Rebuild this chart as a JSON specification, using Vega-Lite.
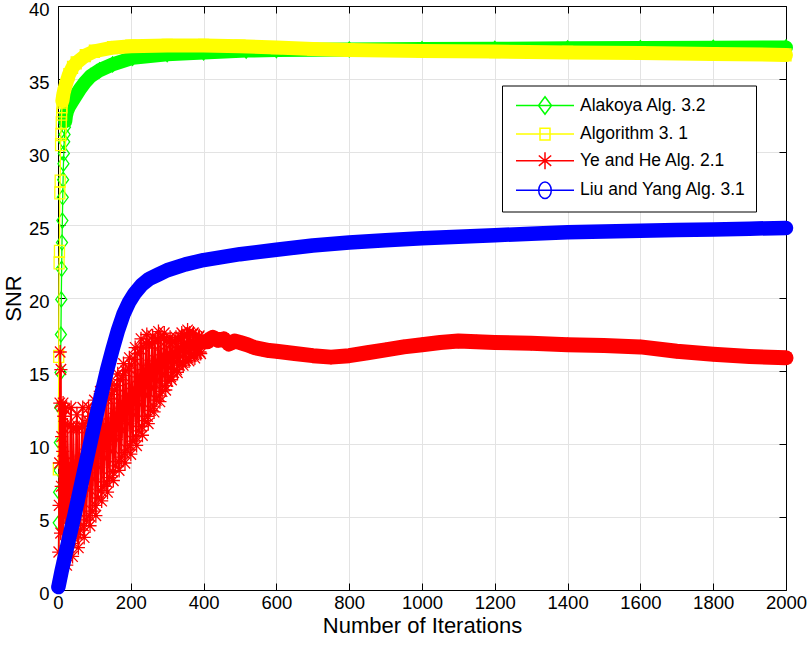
{
  "$schema": "https://vega.github.io/schema/vega-lite/v6.json",
  "width": 728,
  "height": 584,
  "autosize": {"type": "none"},
  "padding": {"left": 58, "top": 6, "right": 21, "bottom": 67},
  "background": "white",
  "config": {"view": {"stroke": null}, "font": "Liberation Sans"},
  "datasets": {
    "green": [
      {"it": 1, "v": 0.5}, {"it": 2, "v": 4.6}, {"it": 3, "v": 6.7}, {"it": 4, "v": 8.2}, {"it": 5, "v": 10.1},
      {"it": 6, "v": 12.5}, {"it": 7, "v": 14.9}, {"it": 8, "v": 17.5}, {"it": 9, "v": 19.9}, {"it": 10, "v": 22.0},
      {"it": 11, "v": 23.8}, {"it": 12, "v": 25.3}, {"it": 13, "v": 26.9}, {"it": 14, "v": 28.1}, {"it": 15, "v": 29.2},
      {"it": 16, "v": 29.9}, {"it": 17, "v": 30.7}, {"it": 18, "v": 31.2}, {"it": 19, "v": 31.7}, {"it": 20, "v": 32.1},
      {"it": 22, "v": 32.5}, {"it": 25, "v": 32.8}, {"it": 30, "v": 33.1}, {"it": 40, "v": 33.5}, {"it": 50, "v": 33.9},
      {"it": 60, "v": 34.3}, {"it": 75, "v": 34.8}, {"it": 90, "v": 35.2}, {"it": 114, "v": 35.6}, {"it": 150, "v": 36.0},
      {"it": 205, "v": 36.45}, {"it": 300, "v": 36.7}, {"it": 400, "v": 36.82}, {"it": 517, "v": 36.95}, {"it": 600, "v": 36.98},
      {"it": 800, "v": 37.02}, {"it": 1000, "v": 37.05}, {"it": 1200, "v": 37.07}, {"it": 1400, "v": 37.1}, {"it": 1600, "v": 37.12},
      {"it": 1800, "v": 37.14}, {"it": 2000, "v": 37.16}
    ],
    "yellow": [
      {"it": 1, "v": 8.3}, {"it": 2, "v": 16.0}, {"it": 3, "v": 22.4}, {"it": 4, "v": 23.2}, {"it": 5, "v": 27.2},
      {"it": 6, "v": 28.0}, {"it": 7, "v": 30.5}, {"it": 8, "v": 31.2}, {"it": 9, "v": 32.0}, {"it": 10, "v": 32.6},
      {"it": 11, "v": 33.1}, {"it": 12, "v": 33.5}, {"it": 15, "v": 34.0}, {"it": 20, "v": 34.5}, {"it": 30, "v": 35.3},
      {"it": 40, "v": 35.8}, {"it": 50, "v": 36.1}, {"it": 75, "v": 36.6}, {"it": 100, "v": 36.9}, {"it": 150, "v": 37.15},
      {"it": 200, "v": 37.25}, {"it": 300, "v": 37.3}, {"it": 400, "v": 37.3}, {"it": 500, "v": 37.25}, {"it": 600, "v": 37.15},
      {"it": 700, "v": 37.05}, {"it": 800, "v": 36.98}, {"it": 1000, "v": 36.92}, {"it": 1200, "v": 36.88}, {"it": 1400, "v": 36.82},
      {"it": 1600, "v": 36.78}, {"it": 1800, "v": 36.72}, {"it": 2000, "v": 36.65}
    ],
    "red": [
      {"it": 1, "v": 0.3}, {"it": 2, "v": 2.6}, {"it": 3, "v": 5.8}, {"it": 4, "v": 8.7}, {"it": 5, "v": 12.8},
      {"it": 6, "v": 16.3}, {"it": 7, "v": 3.9}, {"it": 8, "v": 15.1}, {"it": 9, "v": 7.1}, {"it": 10, "v": 10.5},
      {"it": 11, "v": 12.6}, {"it": 12, "v": 1.4}, {"it": 13, "v": 9.5}, {"it": 14, "v": 12.8}, {"it": 15, "v": 2.0},
      {"it": 16, "v": 11.9}, {"it": 17, "v": 5.0}, {"it": 18, "v": 12.4},
      {"it": 20, "v": 12.4}, {"it": 22, "v": 2.7}, {"it": 24, "v": 1.7}, {"it": 26, "v": 11.3}, {"it": 28, "v": 8.6}, {"it": 30, "v": 2.9},
      {"it": 32, "v": 5.6}, {"it": 34, "v": 11.2}, {"it": 36, "v": 12.5}, {"it": 38, "v": 3.2}, {"it": 40, "v": 2.3}, {"it": 42, "v": 11.1},
      {"it": 44, "v": 8.7}, {"it": 46, "v": 3.5}, {"it": 48, "v": 5.9}, {"it": 50, "v": 11.1}, {"it": 52, "v": 12.0}, {"it": 54, "v": 3.8},
      {"it": 56, "v": 2.9}, {"it": 58, "v": 11.1}, {"it": 60, "v": 8.9}, {"it": 62, "v": 4.1}, {"it": 64, "v": 6.4}, {"it": 66, "v": 11.2},
      {"it": 68, "v": 12.5}, {"it": 70, "v": 4.4}, {"it": 72, "v": 3.6}, {"it": 74, "v": 11.4}, {"it": 76, "v": 9.3}, {"it": 78, "v": 4.8},
      {"it": 80, "v": 6.9}, {"it": 82, "v": 11.6}, {"it": 84, "v": 12.5}, {"it": 86, "v": 5.1}, {"it": 88, "v": 4.4}, {"it": 90, "v": 11.9},
      {"it": 92, "v": 9.9}, {"it": 94, "v": 5.4}, {"it": 96, "v": 7.6}, {"it": 98, "v": 12.1}, {"it": 100, "v": 13.0}, {"it": 102, "v": 5.8},
      {"it": 104, "v": 5.1}, {"it": 106, "v": 12.4}, {"it": 108, "v": 10.5}, {"it": 110, "v": 6.3}, {"it": 112, "v": 8.4}, {"it": 114, "v": 12.8},
      {"it": 116, "v": 13.6}, {"it": 118, "v": 6.8}, {"it": 120, "v": 6.1}, {"it": 122, "v": 13.0}, {"it": 124, "v": 11.2}, {"it": 126, "v": 7.1},
      {"it": 128, "v": 9.0}, {"it": 130, "v": 13.1}, {"it": 132, "v": 13.8}, {"it": 134, "v": 7.4}, {"it": 136, "v": 6.7}, {"it": 138, "v": 13.1},
      {"it": 140, "v": 11.4}, {"it": 142, "v": 7.7}, {"it": 144, "v": 9.5}, {"it": 146, "v": 13.4}, {"it": 148, "v": 14.1}, {"it": 150, "v": 8.1},
      {"it": 152, "v": 7.5}, {"it": 154, "v": 13.7}, {"it": 156, "v": 12.1}, {"it": 158, "v": 8.5}, {"it": 160, "v": 10.3}, {"it": 162, "v": 14.0},
      {"it": 164, "v": 14.8}, {"it": 166, "v": 8.8}, {"it": 168, "v": 8.2}, {"it": 170, "v": 14.4}, {"it": 172, "v": 12.8}, {"it": 174, "v": 9.1},
      {"it": 176, "v": 10.9}, {"it": 178, "v": 14.7}, {"it": 180, "v": 15.5}, {"it": 182, "v": 9.4}, {"it": 184, "v": 8.7}, {"it": 186, "v": 15.0},
      {"it": 188, "v": 13.3}, {"it": 190, "v": 9.6}, {"it": 192, "v": 11.4}, {"it": 194, "v": 15.2}, {"it": 196, "v": 15.9}, {"it": 198, "v": 9.9},
      {"it": 200, "v": 9.3}, {"it": 202, "v": 15.4}, {"it": 204, "v": 13.8}, {"it": 206, "v": 10.2}, {"it": 208, "v": 12.0}, {"it": 210, "v": 15.8},
      {"it": 212, "v": 16.6}, {"it": 214, "v": 10.5}, {"it": 216, "v": 9.9}, {"it": 218, "v": 16.2}, {"it": 220, "v": 14.6}, {"it": 222, "v": 10.9},
      {"it": 224, "v": 12.7}, {"it": 226, "v": 16.5}, {"it": 228, "v": 17.2}, {"it": 230, "v": 11.2}, {"it": 232, "v": 10.6}, {"it": 234, "v": 16.7},
      {"it": 236, "v": 15.1}, {"it": 238, "v": 11.6}, {"it": 240, "v": 13.3}, {"it": 242, "v": 16.9}, {"it": 244, "v": 17.5}, {"it": 246, "v": 11.9},
      {"it": 248, "v": 11.4}, {"it": 250, "v": 16.9}, {"it": 252, "v": 15.4}, {"it": 254, "v": 12.3}, {"it": 256, "v": 13.8}, {"it": 258, "v": 16.9},
      {"it": 260, "v": 17.4}, {"it": 262, "v": 12.6}, {"it": 264, "v": 12.2}, {"it": 266, "v": 17.0}, {"it": 268, "v": 15.7}, {"it": 270, "v": 13.0},
      {"it": 272, "v": 14.3}, {"it": 274, "v": 17.2}, {"it": 276, "v": 17.7}, {"it": 278, "v": 13.3}, {"it": 280, "v": 12.9}, {"it": 282, "v": 17.3},
      {"it": 284, "v": 16.1}, {"it": 286, "v": 13.6}, {"it": 288, "v": 14.8}, {"it": 290, "v": 17.2}, {"it": 292, "v": 17.6}, {"it": 294, "v": 14.0},
      {"it": 296, "v": 13.7}, {"it": 298, "v": 17.1}, {"it": 300, "v": 16.2}, {"it": 302, "v": 14.3}, {"it": 304, "v": 15.2}, {"it": 306, "v": 17.0},
      {"it": 308, "v": 17.3}, {"it": 310, "v": 14.6}, {"it": 312, "v": 14.4}, {"it": 314, "v": 17.0}, {"it": 316, "v": 16.3}, {"it": 318, "v": 14.9},
      {"it": 320, "v": 15.6}, {"it": 322, "v": 17.0}, {"it": 324, "v": 17.3}, {"it": 326, "v": 15.1}, {"it": 328, "v": 14.9}, {"it": 330, "v": 17.2},
      {"it": 332, "v": 16.6}, {"it": 334, "v": 15.4}, {"it": 336, "v": 16.0}, {"it": 338, "v": 17.3}, {"it": 340, "v": 17.6}, {"it": 342, "v": 15.6},
      {"it": 344, "v": 15.4}, {"it": 346, "v": 17.4}, {"it": 348, "v": 16.9}, {"it": 350, "v": 15.7}, {"it": 352, "v": 16.3}, {"it": 354, "v": 17.5},
      {"it": 356, "v": 17.8}, {"it": 358, "v": 15.9}, {"it": 360, "v": 15.7}, {"it": 362, "v": 17.6}, {"it": 364, "v": 17.05}, {"it": 366, "v": 16.0},
      {"it": 368, "v": 16.5}, {"it": 370, "v": 17.5}, {"it": 372, "v": 17.6}, {"it": 374, "v": 16.1}, {"it": 376, "v": 15.9}, {"it": 378, "v": 17.4},
      {"it": 380, "v": 16.97}, {"it": 382, "v": 16.2}, {"it": 384, "v": 16.56}, {"it": 386, "v": 17.3}, {"it": 388, "v": 17.4}, {"it": 390, "v": 16.3},
      {"it": 392, "v": 16.2}, {"it": 394, "v": 17.25}, {"it": 396, "v": 17.0},
      {"it": 410, "v": 17.0}, {"it": 425, "v": 17.3}, {"it": 440, "v": 17.1}, {"it": 455, "v": 17.2}, {"it": 470, "v": 16.85},
      {"it": 485, "v": 17.05}, {"it": 500, "v": 16.95}, {"it": 520, "v": 16.8}, {"it": 540, "v": 16.6}, {"it": 560, "v": 16.5},
      {"it": 580, "v": 16.4}, {"it": 600, "v": 16.35}, {"it": 650, "v": 16.2}, {"it": 700, "v": 16.05}, {"it": 750, "v": 15.95},
      {"it": 800, "v": 16.05}, {"it": 850, "v": 16.25}, {"it": 900, "v": 16.45}, {"it": 950, "v": 16.65}, {"it": 1000, "v": 16.8},
      {"it": 1050, "v": 16.95}, {"it": 1100, "v": 17.05}, {"it": 1150, "v": 17.0}, {"it": 1200, "v": 16.95}, {"it": 1300, "v": 16.9},
      {"it": 1400, "v": 16.8}, {"it": 1500, "v": 16.75}, {"it": 1600, "v": 16.65}, {"it": 1700, "v": 16.35}, {"it": 1800, "v": 16.15},
      {"it": 1900, "v": 16.0}, {"it": 2000, "v": 15.9}
    ],
    "blue": [
      {"it": 1, "v": 0.2}, {"it": 10, "v": 1.3}, {"it": 20, "v": 2.4}, {"it": 30, "v": 3.5}, {"it": 45, "v": 5.1},
      {"it": 60, "v": 6.8}, {"it": 75, "v": 8.5}, {"it": 90, "v": 10.2}, {"it": 105, "v": 11.9}, {"it": 120, "v": 13.5},
      {"it": 135, "v": 15.1}, {"it": 150, "v": 16.5}, {"it": 165, "v": 17.8}, {"it": 180, "v": 18.9}, {"it": 195, "v": 19.7},
      {"it": 210, "v": 20.3}, {"it": 230, "v": 20.9}, {"it": 250, "v": 21.3}, {"it": 275, "v": 21.6}, {"it": 300, "v": 21.9},
      {"it": 350, "v": 22.3}, {"it": 400, "v": 22.6}, {"it": 450, "v": 22.8}, {"it": 500, "v": 23.0}, {"it": 600, "v": 23.3},
      {"it": 700, "v": 23.6}, {"it": 800, "v": 23.8}, {"it": 900, "v": 23.95}, {"it": 1000, "v": 24.1}, {"it": 1100, "v": 24.2},
      {"it": 1200, "v": 24.3}, {"it": 1300, "v": 24.4}, {"it": 1400, "v": 24.5}, {"it": 1500, "v": 24.55}, {"it": 1600, "v": 24.6},
      {"it": 1700, "v": 24.65}, {"it": 1800, "v": 24.7}, {"it": 1900, "v": 24.75}, {"it": 2000, "v": 24.8}
    ],
    "legend": [
      {"s": "Alakoya Alg. 3.2"}, {"s": "Algorithm 3. 1"}, {"s": "Ye and He Alg. 2.1"}, {"s": "Liu and Yang Alg. 3.1"}
    ]
  },
  "layer": [
    {
      "encoding": {
        "x": {
          "field": "it", "type": "quantitative",
          "scale": {"domain": [0, 2000], "nice": false, "zero": false},
          "axis": {
            "orient": "bottom", "values": [0, 200, 400, 600, 800, 1000, 1200, 1400, 1600, 1800, 2000], "format": "d",
            "title": "Number of Iterations", "grid": true, "gridColor": "#e3e3e3", "gridWidth": 1,
            "domainColor": "black", "domainWidth": 1, "tickColor": "black", "tickSize": -7, "tickWidth": 1,
            "labelPadding": 10.5, "labelFont": "Liberation Sans", "labelFontSize": 18.5, "labelColor": "black",
            "labelFlush": false, "labelOverlap": false,
            "titleFont": "Liberation Sans", "titleFontSize": 22, "titleFontWeight": "normal", "titleColor": "black",
            "titleBaseline": "alphabetic", "titleY": 42
          }
        },
        "y": {
          "field": "v", "type": "quantitative",
          "scale": {"domain": [0, 40], "nice": false, "zero": false},
          "axis": {
            "orient": "left", "values": [0, 5, 10, 15, 20, 25, 30, 35, 40], "format": "d",
            "title": "SNR", "grid": true, "gridColor": "#e3e3e3", "gridWidth": 1,
            "domainColor": "black", "domainWidth": 1, "tickColor": "black", "tickSize": -7, "tickWidth": 1,
            "labelPadding": 16, "labelOffset": 3.5, "labelFont": "Liberation Sans", "labelFontSize": 18.5, "labelColor": "black",
            "labelFlush": false, "labelOverlap": false,
            "titleFont": "Liberation Sans", "titleFontSize": 22, "titleFontWeight": "normal", "titleColor": "black",
            "titleBaseline": "alphabetic", "titleX": -38, "titleY": 292
          }
        }
      },
      "layer": [
        {
          "data": {"name": "green"},
          "layer": [
            {"mark": {"type": "line", "color": "#00ff00", "strokeWidth": 1.3}, "encoding": {}},
            {"transform": [{"filter": "datum.it >= 20"}], "mark": {"type": "line", "color": "#00ff00", "strokeWidth": 14, "strokeCap": "round", "strokeJoin": "round"}, "encoding": {}},
            {"mark": {"type": "point", "color": "#00ff00", "filled": false, "opacity": 1, "strokeWidth": 1.3, "size": 100, "shape": "M0,-1.5L1.1,0L0,1.5L-1.1,0Z"}, "encoding": {}}
          ]
        },
        {
          "data": {"name": "yellow"},
          "layer": [
            {"mark": {"type": "line", "color": "#ffff00", "strokeWidth": 1.3}, "encoding": {}},
            {"transform": [{"filter": "datum.it >= 12"}], "mark": {"type": "line", "color": "#ffff00", "strokeWidth": 14, "strokeCap": "round", "strokeJoin": "round"}, "encoding": {}},
            {"mark": {"type": "point", "color": "#ffff00", "filled": false, "opacity": 1, "strokeWidth": 1.3, "size": 100, "shape": "M-1,-1.2H1V1.2H-1Z"}, "encoding": {}}
          ]
        },
        {
          "data": {"name": "red"},
          "layer": [
            {"mark": {"type": "line", "color": "#ff0000", "strokeWidth": 1.8}, "encoding": {}},
            {"transform": [{"filter": "datum.it >= 396"}], "mark": {"type": "line", "color": "#ff0000", "strokeWidth": 15, "strokeCap": "round", "strokeJoin": "round"}, "encoding": {}},
            {"mark": {"type": "point", "color": "#ff0000", "filled": false, "opacity": 1, "strokeWidth": 1.3, "size": 120, "shape": "M0,-1.3V1.3M-1.2,0H1.2M-0.95,-1L0.95,1M-0.95,1L0.95,-1"}, "encoding": {}}
          ]
        },
        {
          "data": {"name": "blue"},
          "layer": [
            {"mark": {"type": "line", "color": "#0000ff", "strokeWidth": 14.5, "strokeCap": "round", "strokeJoin": "round"}, "encoding": {}}
          ]
        }
      ]
    },
    {
      "data": {"name": "legend"},
      "transform": [{"filter": "isValid(datum.it)"}],
      "mark": {"type": "point", "filled": false, "strokeWidth": 1.5},
      "encoding": {
        "x": {
          "field": "it", "type": "quantitative",
          "scale": {"domain": [0, 2000], "nice": false, "zero": false},
          "axis": {"orient": "top", "values": [0, 200, 400, 600, 800, 1000, 1200, 1400, 1600, 1800, 2000], "labels": false, "title": null, "grid": false, "domainColor": "black", "domainWidth": 1, "tickColor": "black", "tickSize": -7, "tickWidth": 1}
        },
        "y": {
          "field": "v", "type": "quantitative",
          "scale": {"domain": [0, 40], "nice": false, "zero": false},
          "axis": {"orient": "right", "values": [0, 5, 10, 15, 20, 25, 30, 35, 40], "labels": false, "title": null, "grid": false, "domainColor": "black", "domainWidth": 1, "tickColor": "black", "tickSize": -7, "tickWidth": 1}
        },
        "color": {
          "field": "s", "type": "nominal",
          "scale": {"domain": ["Alakoya Alg. 3.2", "Algorithm 3. 1", "Ye and He Alg. 2.1", "Liu and Yang Alg. 3.1"], "range": ["#00ff00", "#ffff00", "#ff0000", "#0000ff"]},
          "legend": {"title": null, "orient": "none", "legendX": 444, "legendY": 79.5, "strokeColor": "black", "fillColor": "white", "padding": 9, "symbolSize": 400, "symbolOffset": 23, "labelOffset": 24, "rowPadding": 5.6, "symbolStrokeWidth": 1.5, "symbolOpacity": 1, "labelFont": "Liberation Sans", "labelFontSize": 17.5, "labelColor": "black", "labelLimit": 400}
        },
        "shape": {
          "field": "s", "type": "nominal",
          "scale": {"domain": ["Alakoya Alg. 3.2", "Algorithm 3. 1", "Ye and He Alg. 2.1", "Liu and Yang Alg. 3.1"], "range": [
            "M-2.9,0H2.9M0,-0.88L0.65,0L0,0.88L-0.65,0Z",
            "M-2.9,0H2.9M-0.5,-0.58H0.5V0.58H-0.5Z",
            "M-2.9,0H2.9M0,-0.85V0.85M-0.62,-0.52L0.62,0.52M-0.62,0.52L0.62,-0.52",
            "M-2.9,0H2.9M-0.63,0A0.63,0.83,0,1,1,0.63,0A0.63,0.83,0,1,1,-0.63,0Z"
          ]},
          "legend": {"title": null, "orient": "none", "legendX": 444, "legendY": 79.5, "strokeColor": "black", "fillColor": "white", "padding": 9, "symbolSize": 400, "symbolOffset": 23, "labelOffset": 24, "rowPadding": 5.6, "symbolStrokeWidth": 1.5, "symbolOpacity": 1, "labelFont": "Liberation Sans", "labelFontSize": 17.5, "labelColor": "black", "labelLimit": 400}
        }
      }
    }
  ],
  "resolve": {"axis": {"x": "independent", "y": "independent"}}
}
